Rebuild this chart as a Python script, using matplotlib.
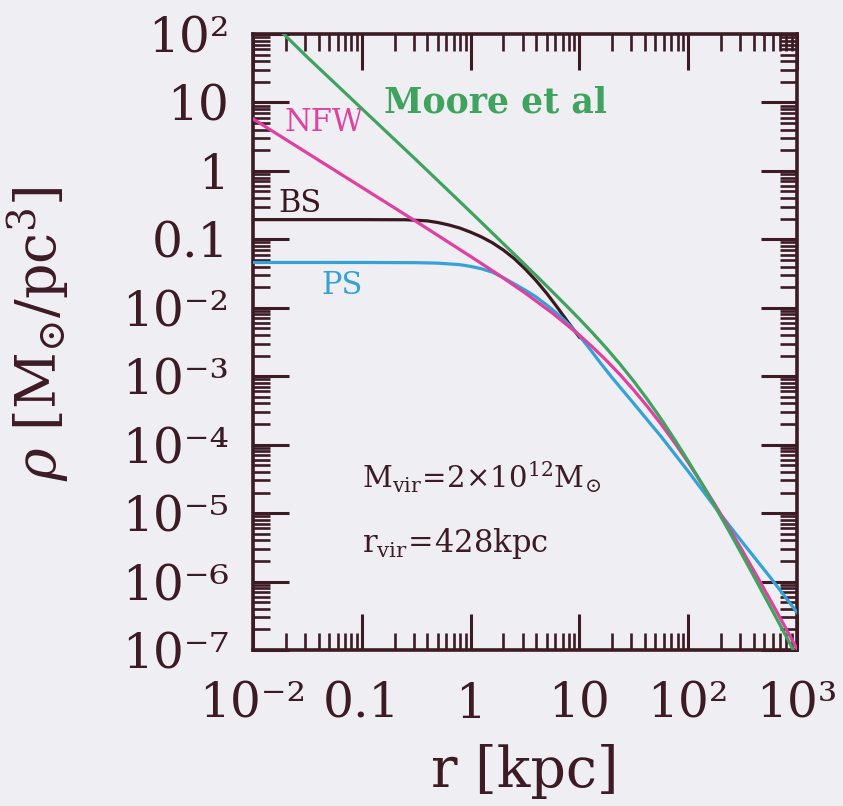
import numpy as np
import matplotlib
matplotlib.use("Agg")
import matplotlib.pyplot as plt
from matplotlib.ticker import LogLocator, FixedLocator, NullFormatter

# ---- data, log10 values ----
moore_logr = [-1.75, -1.5, -1.0, -0.5, 0.0, 0.5, 0.625, 0.75, 0.875, 1.0, 1.125, 1.25, 1.375, 1.5,
              1.625, 1.75, 1.875, 2.0, 2.125, 2.25, 2.375, 2.5, 2.625, 2.75, 2.875, 2.97]
moore_logrho = [2.05, 1.66, 0.91, 0.16, -0.60, -1.37, -1.565, -1.762, -1.961, -2.164, -2.374, -2.594,
                -2.827, -3.074, -3.339, -3.623, -3.924, -4.240, -4.570, -4.911, -5.262, -5.621,
                -5.986, -6.355, -6.726, -7.01]

nfw_logr = [-2.0, -1.5, -1.0, -0.5, 0.0, 0.25, 0.5, 0.75, 1.0, 1.125, 1.25, 1.375, 1.5, 1.625, 1.75,
            1.875, 2.0, 2.125, 2.25, 2.375, 2.5, 2.625, 2.75, 2.875, 3.0]
nfw_logrho = [0.76, 0.26, -0.24, -0.74, -1.25, -1.51, -1.783, -2.075, -2.40, -2.58, -2.773, -2.98,
              -3.204, -3.443, -3.698, -3.970, -4.261, -4.567, -4.886, -5.216, -5.555, -5.902,
              -6.257, -6.618, -6.984]

bs_logr = [-2.0, -1.0, -0.6, -0.4, -0.3, -0.2, -0.1, 0.0, 0.1, 0.2, 0.3, 0.4, 0.5, 0.6, 0.7, 0.8, 0.9, 1.0]
bs_logrho = [-0.712, -0.712, -0.714, -0.73, -0.755, -0.79, -0.835, -0.895, -0.965, -1.05, -1.155,
             -1.28, -1.43, -1.60, -1.79, -2.0, -2.22, -2.43]

ps_logr = [-2.0, -1.0, -0.5, -0.3, -0.1, 0.0, 0.1, 0.2, 0.3, 0.4, 0.5, 0.6, 0.7, 0.8, 0.9, 1.0,
           1.1, 1.2, 1.3, 1.4, 1.5, 1.75, 2.0, 2.25, 2.5, 2.75, 3.0]
ps_logrho = [-1.338, -1.338, -1.341, -1.348, -1.37, -1.395, -1.43, -1.48, -1.56, -1.65, -1.74, -1.84,
             -1.96, -2.09, -2.24, -2.41, -2.61, -2.82, -3.02, -3.21, -3.40, -3.88, -4.39, -4.92,
             -5.43, -5.93, -6.45]

xtick_vals = [1e-2, 1e-1, 1, 10, 1e2, 1e3]
xtick_labels = ["10\u207b\u00b2", "0.1", "1", "10", "10\u00b2", "10\u00b3"]
ytick_vals = [1e2, 10, 1, 0.1, 1e-2, 1e-3, 1e-4, 1e-5, 1e-6, 1e-7]
ytick_labels = ["10\u00b2", "10", "1", "0.1", "10\u207b\u00b2", "10\u207b\u00b3", "10\u207b\u2074",
                "10\u207b\u2075", "10\u207b\u2076", "10\u207b\u2077"]

# ---- style ----
BG = "#efeef2"
FRAME = "#3d1b25"
GREEN = "#3fa35f"
MAGENTA = "#e0409f"
BLUE = "#34a2d6"
BLACK = "#3a1820"
FAM = ["DejaVu Serif", "DejaVu Sans"]

plt.rcParams["font.family"] = FAM
plt.rcParams["mathtext.fontset"] = "dejavuserif"

fig = plt.figure(figsize=(8.43, 8.06), dpi=100, facecolor=BG)
ax = fig.add_axes([253/843, 1-650/806, (797-253)/843, (650-34)/806], facecolor=BG)

lw = 2.3
ax.plot(10**np.array(bs_logr), 10**np.array(bs_logrho), color=BLACK, lw=lw, zorder=2)
ax.plot(10**np.array(ps_logr), 10**np.array(ps_logrho), color=BLUE, lw=lw, zorder=3)
ax.plot(10**np.array(nfw_logr), 10**np.array(nfw_logrho), color=MAGENTA, lw=lw, zorder=4)
ax.plot(10**np.array(moore_logr), 10**np.array(moore_logrho), color=GREEN, lw=lw, zorder=5)

ax.set_xscale("log")
ax.set_yscale("log")
ax.set_xlim(1e-2, 1e3)
ax.set_ylim(1e-7, 1e2)

ax.xaxis.set_major_locator(FixedLocator(xtick_vals))
ax.yaxis.set_major_locator(FixedLocator(ytick_vals))
ax.xaxis.set_minor_locator(LogLocator(base=10, subs=np.arange(2, 10), numticks=50))
ax.yaxis.set_minor_locator(LogLocator(base=10, subs=np.arange(2, 10), numticks=50))
ax.xaxis.set_minor_formatter(NullFormatter())
ax.yaxis.set_minor_formatter(NullFormatter())
ax.set_xticklabels(xtick_labels)
ax.set_yticklabels(ytick_labels)

ax.tick_params(which="both", direction="in", top=True, right=True, colors=FRAME)
ax.tick_params(which="major", length=26, width=2.2, labelsize=35, pad=17, labelcolor=FRAME)
ax.tick_params(axis="x", which="major", pad=22)
ax.tick_params(which="minor", length=12.5, width=1.9)
for s in ax.spines.values():
    s.set_color(FRAME)
    s.set_linewidth(2.6)

ax.set_xlabel("r [kpc]", fontsize=40, color=FRAME)
ax.xaxis.set_label_coords(0.5, -0.152)
ax.xaxis.label.set_va("top")
ax.set_ylabel(r"$\rho\ [\mathrm{M}_{\odot}/\mathrm{pc}^{3}]$", fontsize=40, color=FRAME)
ax.yaxis.set_label_coords(-0.335, 0.513)

# ---- annotations ----
ax.text(10**0.23, 10**1.0, "Moore et al", color=GREEN, fontsize=25, fontweight="bold",
        ha="center", va="center")
ax.text(10**-1.35, 10**0.71, "NFW", color=MAGENTA, fontsize=22, ha="center", va="center")
ax.text(10**-1.57, 10**-0.47, "BS", color=BLACK, fontsize=22, ha="center", va="center")
ax.text(10**-1.18, 10**-1.67, "PS", color=BLUE, fontsize=22, ha="center", va="center")
ax.text(10**-1.0, 10**-4.48, r"$\mathrm{M_{vir}}\!=\!2{\times}10^{12}\mathrm{M}_{\odot}$", color=FRAME,
        fontsize=21, ha="left", va="center")
ax.text(10**-1.0, 10**-5.45, r"$\mathrm{r_{vir}}\!=\!\mathrm{428kpc}$", color=FRAME,
        fontsize=22, ha="left", va="center")

fig.savefig("out.png", dpi=100, facecolor=BG)
